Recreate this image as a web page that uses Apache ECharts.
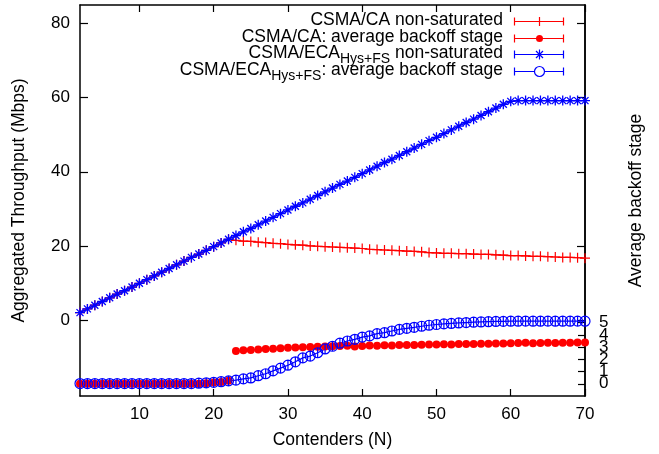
<!DOCTYPE html>
<html>
<head>
<meta charset="utf-8">
<script src="https://cdn.jsdelivr.net/npm/echarts@6/dist/echarts.min.js"></script>
<style>
html,body{margin:0;padding:0;background:#fff;}
#c{width:659px;height:454px;}
</style>
</head>
<body>
<div id="c"></div>
<script>
// ---- data ----
const contenders = [2,3,4,5,6,7,8,9,10,11,12,13,14,15,16,17,18,19,20,21,22,23,24,25,26,27,28,29,30,31,32,33,34,35,36,37,38,39,40,41,42,43,44,45,46,47,48,49,50,51,52,53,54,55,56,57,58,59,60,61,62,63,64,65,66,67,68,69,70];

const caThroughput = [2.0,3.0,4.0,5.0,6.0,7.0,7.9,8.9,9.9,10.9,11.9,12.9,13.9,14.9,15.9,16.9,17.8,18.8,19.8,20.8,21.8,
  21.5,21.3,21.2,21.0,20.9,20.7,20.6,20.4,20.3,20.2,20.0,19.9,19.8,19.7,19.6,19.5,19.4,19.3,19.1,19.0,18.9,18.8,18.7,18.6,18.5,18.4,18.2,18.1,
  18.0,18.0,17.9,17.9,17.8,17.7,17.7,17.6,17.5,17.4,17.4,17.3,17.2,17.2,17.1,17.0,16.9,16.9,16.8,16.7];

const caBackoff = [0.0,0.0,0.0,0.0,0.0,0.0,0.0,0.0,0.0,0.0,0.0,0.0,0.0,0.0,0.0,0.0,0.0,0.05,0.1,0.15,0.25,
  2.69,2.74,2.77,2.80,2.84,2.87,2.91,2.95,2.97,2.99,3.02,3.04,3.06,3.08,3.10,3.11,3.06,3.10,3.14,3.12,3.15,3.14,3.17,3.18,3.17,3.20,3.21,3.22,
  3.23,3.22,3.25,3.26,3.25,3.27,3.28,3.30,3.29,3.31,3.33,3.36,3.32,3.33,3.35,3.34,3.36,3.36,3.37,3.37];
// index where the CA backoff curve restarts (N = 23)
const caBackoffBreak = 21;

const ecaThroughput = [2.0,3.0,4.0,5.0,6.0,7.0,7.9,8.9,9.9,10.9,11.9,12.9,13.9,14.9,15.9,16.9,17.8,18.8,19.8,20.8,21.8,
  22.8,23.8,24.7,25.7,26.7,27.7,28.7,29.7,30.7,31.6,32.6,33.6,34.6,35.6,36.6,37.5,38.5,39.5,40.5,41.5,42.5,43.4,44.4,45.4,46.4,47.4,48.4,49.3,
  50.3,51.3,52.3,53.3,54.2,55.2,56.2,57.2,58.2,59.0,59.2,59.2,59.2,59.2,59.2,59.2,59.2,59.2,59.2,59.2];

const ecaBackoff = [0.02,0.02,0.02,0.02,0.02,0.02,0.02,0.02,0.02,0.02,0.02,0.02,0.02,0.02,0.02,0.02,0.05,0.08,0.12,0.17,0.24,
  0.30,0.40,0.48,0.66,0.82,1.06,1.28,1.52,1.80,2.12,2.27,2.54,2.85,3.07,3.32,3.50,3.64,3.82,3.92,4.10,4.18,4.32,4.45,4.54,4.62,4.71,4.79,4.85,
  4.90,4.94,4.98,5.01,5.04,5.06,5.08,5.10,5.11,5.12,5.12,5.13,5.12,5.12,5.13,5.12,5.12,5.12,5.13,5.12];

const xTicks = [10,20,30,40,50,60,70];
const yTicks = [0,20,40,60,80];
const y2Ticks = [0,1,2,3,4,5];
const y2LabelsEven = [0,2,4];
const y2LabelsOdd = [1,3,5];

const legendNames = [
  '{a|CSMA/CA non-saturated}',
  '{a|CSMA/CA: average backoff stage}',
  '{a|CSMA/ECA}{s|Hys+FS}{a| non-saturated}',
  '{a|CSMA/ECA}{s|Hys+FS}{a|: average backoff stage}'
];

// ---- chart ----
const FONT = '"Liberation Sans", Arial, Helvetica, sans-serif';
const RED = '#ff0000', BLUE = '#0000ff';
const zip = (xs, ys) => xs.map((x, i) => [x, ys[i]]);

const chart = echarts.init(document.getElementById('c'), null, {renderer: 'canvas'});

const axisLine = {show: true, onZero: false, lineStyle: {color: '#000', width: 1.5}};
const tickStyle = {color: '#000', width: 1.2};
const labelStyle = {color: '#000', fontSize: 17, fontFamily: FONT};
const nameStyle = {color: '#000', fontSize: 17.5, fontFamily: FONT};

const plusPath = 'path://M-5,0 L5,0 M0,-5 L0,5';
const starPath = 'path://M-5,0 L5,0 M0,-5 L0,5 M-3.5,-3.5 L3.5,3.5 M-3.5,3.5 L3.5,-3.5';
const ringPath = 'path://M0,-5 A5,5 0 1,1 0,5 A5,5 0 1,1 0,-5 Z M0,-5 L0,5';

const rowY = [21.5, 38.5, 54.5, 71.5];
const legendGraphic = [];
const rich = {
  a: {fontSize: 17.5, fontFamily: FONT, fill: '#000', lineHeight: 19, verticalAlign: 'top'},
  s: {fontSize: 14, fontFamily: FONT, fill: '#000', lineHeight: 14, padding: [8, 0, 0, 0], verticalAlign: 'top'}
};
const legColors = [RED, RED, BLUE, BLUE];
const seg = (x1, y1, x2, y2, c) => ({type: 'line', silent: true, shape: {x1: x1, y1: y1, x2: x2, y2: y2}, style: {stroke: c, lineWidth: 1.2}});
legendNames.forEach((t, i) => {
  const y = rowY[i];
  legendGraphic.push({type: 'text', silent: true, style: {text: t, rich: rich, x: 503, y: y - 10, align: 'right', verticalAlign: 'top'}});
  const c = legColors[i];
  legendGraphic.push(seg(514.5, y, 563.5, y, c));
  legendGraphic.push(seg(514.5, y - 4, 514.5, y + 4, c));
  legendGraphic.push(seg(563.5, y - 4, 563.5, y + 4, c));
});
// legend markers
legendGraphic.push(seg(539.5, rowY[0] - 4.5, 539.5, rowY[0] + 4.5, RED));
legendGraphic.push({type: 'circle', silent: true, shape: {cx: 539.5, cy: rowY[1], r: 3.5}, style: {fill: RED}});
legendGraphic.push(seg(539.5, rowY[2] - 5, 539.5, rowY[2] + 5, BLUE));
legendGraphic.push(seg(536, rowY[2] - 3.5, 543, rowY[2] + 3.5, BLUE));
legendGraphic.push(seg(536, rowY[2] + 3.5, 543, rowY[2] - 3.5, BLUE));
legendGraphic.push({type: 'circle', silent: true, shape: {cx: 539.5, cy: rowY[3], r: 5}, style: {fill: '#fff', stroke: BLUE, lineWidth: 1.2}});

const caBackoffPts = zip(contenders, caBackoff);

const option = {
  animation: false,
  backgroundColor: '#fff',
  grid: {left: 80, right: 74, top: 5, bottom: 57, containLabel: false},
  xAxis: [
    {
      type: 'value', min: 2, max: 70, position: 'bottom',
      name: 'Contenders (N)', nameLocation: 'middle', nameGap: 35,
      nameTextStyle: nameStyle,
      axisLine: axisLine,
      axisTick: {show: true, inside: true, length: 7, lineStyle: tickStyle, customValues: xTicks},
      axisLabel: Object.assign({margin: 10, customValues: xTicks, showMinLabel: true, showMaxLabel: true}, labelStyle),
      splitLine: {show: false}
    },
    {
      type: 'value', min: 2, max: 70, position: 'top',
      axisLine: axisLine,
      axisTick: {show: true, inside: true, length: 7, lineStyle: tickStyle, customValues: xTicks},
      axisLabel: {show: false},
      splitLine: {show: false}
    }
  ],
  yAxis: [
    {
      type: 'value', min: -20.5, max: 85, position: 'left',
      name: 'Aggregated Throughput (Mbps)', nameLocation: 'middle', nameGap: 52, nameRotate: 90,
      nameTextStyle: nameStyle,
      axisLine: axisLine,
      axisTick: {show: true, inside: true, length: 8, lineStyle: tickStyle, customValues: yTicks},
      axisLabel: Object.assign({margin: 10, customValues: yTicks, showMinLabel: true, showMaxLabel: true}, labelStyle),
      splitLine: {show: false}
    },
    {
      type: 'value', min: -1, max: 31, position: 'right',
      name: 'Average backoff stage', nameLocation: 'middle', nameGap: 42, nameRotate: 90,
      nameTextStyle: nameStyle,
      axisLine: axisLine,
      axisTick: {show: true, inside: true, length: 7, lineStyle: tickStyle, customValues: y2Ticks},
      axisLabel: Object.assign({margin: 14, customValues: y2LabelsEven, showMinLabel: true, showMaxLabel: true}, labelStyle),
      splitLine: {show: false}
    },
    {
      type: 'value', min: -20.5, max: 85, position: 'right',
      axisLine: axisLine,
      axisTick: {show: true, inside: true, length: 8, lineStyle: tickStyle, customValues: yTicks},
      axisLabel: {show: false},
      splitLine: {show: false}
    },
    {
      type: 'value', min: -1, max: 31, position: 'right',
      axisLine: {show: false},
      axisTick: {show: false},
      axisLabel: Object.assign({margin: 14, customValues: y2LabelsOdd, showMinLabel: true, showMaxLabel: true}, labelStyle),
      splitLine: {show: false}
    }
  ],
  series: [
    {
      name: 'CSMA/CA non-saturated', type: 'line', xAxisIndex: 0, yAxisIndex: 0,
      data: zip(contenders, caThroughput),
      symbol: plusPath, symbolSize: 10, showAllSymbol: true,
      itemStyle: {color: 'none', borderColor: RED, borderWidth: 1.2},
      lineStyle: {color: RED, width: 1.2}
    },
    {
      name: 'CSMA/CA: average backoff stage', type: 'line', xAxisIndex: 0, yAxisIndex: 1,
      data: caBackoffPts.slice(0, caBackoffBreak),
      symbol: 'circle', symbolSize: 8, showAllSymbol: true,
      itemStyle: {color: RED},
      lineStyle: {color: RED, width: 1.2}
    },
    {
      name: 'CSMA/CA: average backoff stage', type: 'line', xAxisIndex: 0, yAxisIndex: 1,
      data: caBackoffPts.slice(caBackoffBreak),
      symbol: 'circle', symbolSize: 8, showAllSymbol: true,
      itemStyle: {color: RED},
      lineStyle: {color: RED, width: 1.2}
    },
    {
      name: 'CSMA/ECA non-saturated', type: 'line', xAxisIndex: 0, yAxisIndex: 0,
      data: zip(contenders, ecaThroughput),
      symbol: starPath, symbolSize: 10, showAllSymbol: true,
      itemStyle: {color: 'none', borderColor: BLUE, borderWidth: 1.3},
      lineStyle: {color: BLUE, width: 1.4}
    },
    {
      name: 'CSMA/ECA: average backoff stage', type: 'line', xAxisIndex: 0, yAxisIndex: 1,
      data: zip(contenders, ecaBackoff),
      symbol: ringPath, symbolSize: 10, showAllSymbol: true,
      itemStyle: {color: 'none', borderColor: BLUE, borderWidth: 1.2},
      lineStyle: {color: BLUE, width: 1.2}
    }
  ],
  graphic: legendGraphic
};
chart.setOption(option);
</script>
</body>
</html>
